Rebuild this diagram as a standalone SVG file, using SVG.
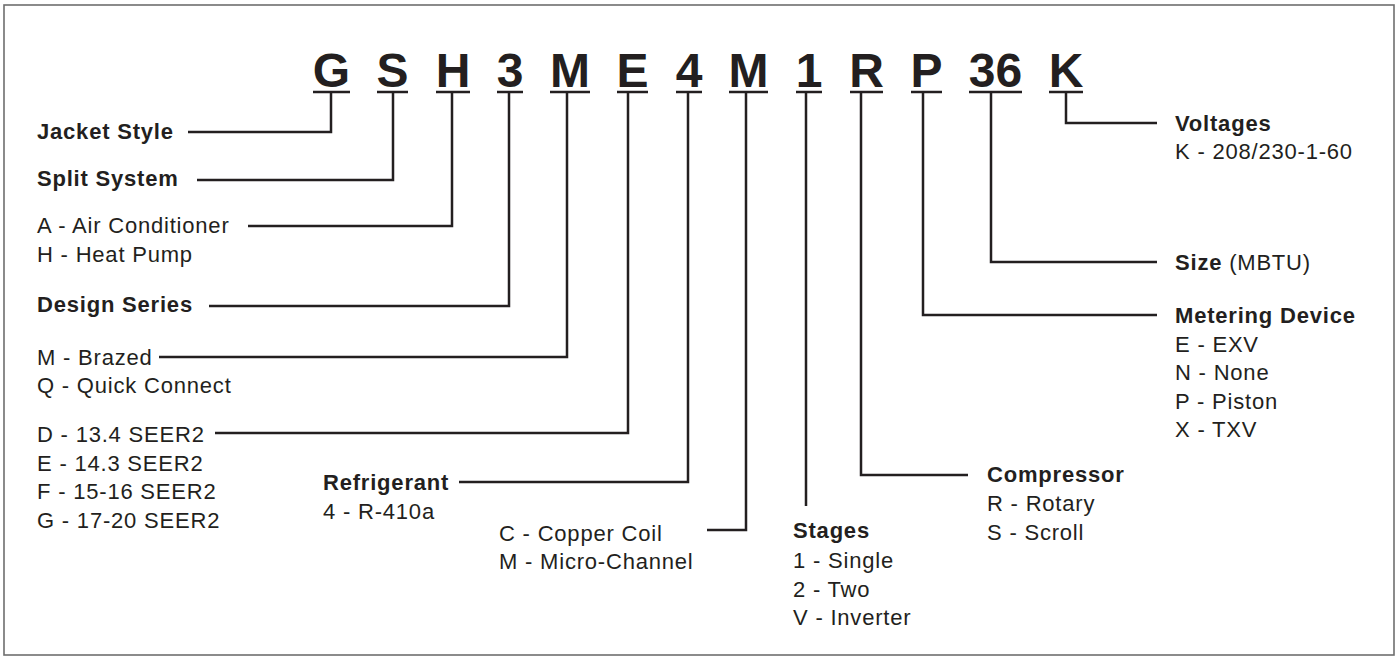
<svg xmlns="http://www.w3.org/2000/svg" width="1398" height="656" viewBox="0 0 1398 656">
<style>
.code{font-family:"Liberation Sans",Arial,Helvetica,sans-serif;font-weight:bold;font-size:48px;fill:#231f20;text-anchor:middle}
.t{font-family:"Liberation Sans",Arial,Helvetica,sans-serif;font-size:22px;letter-spacing:0.8px;fill:#231f20}
.b{font-weight:bold}
.ul{stroke:#231f20;stroke-width:2.5}
.conn polyline{fill:none;stroke:#231f20;stroke-width:2.5}
</style>
<rect x="4" y="5" width="1390" height="650" fill="#ffffff" stroke="#6e6e6e" stroke-width="1.6"/>
<g id="codes">
  <g id="code-G"><text class="code" x="331.5" y="87">G</text><line class="ul" x1="313" y1="92" x2="350" y2="92"/></g>
  <g id="code-S"><text class="code" x="392.5" y="87">S</text><line class="ul" x1="377" y1="92" x2="408" y2="92"/></g>
  <g id="code-H"><text class="code" x="453" y="87">H</text><line class="ul" x1="436" y1="92" x2="470" y2="92"/></g>
  <g id="code-3"><text class="code" x="510" y="87">3</text><line class="ul" x1="497" y1="92" x2="523" y2="92"/></g>
  <g id="code-M1"><text class="code" x="570" y="87">M</text><line class="ul" x1="550" y1="92" x2="590" y2="92"/></g>
  <g id="code-E"><text class="code" x="632.5" y="87">E</text><line class="ul" x1="617" y1="92" x2="648" y2="92"/></g>
  <g id="code-4"><text class="code" x="689" y="87">4</text><line class="ul" x1="676" y1="92" x2="702" y2="92"/></g>
  <g id="code-M2"><text class="code" x="748.5" y="87">M</text><line class="ul" x1="729" y1="92" x2="768" y2="92"/></g>
  <g id="code-1"><text class="code" x="809" y="87">1</text><line class="ul" x1="796" y1="92" x2="822" y2="92"/></g>
  <g id="code-R"><text class="code" x="866.5" y="87">R</text><line class="ul" x1="850" y1="92" x2="883" y2="92"/></g>
  <g id="code-P"><text class="code" x="926.5" y="87">P</text><line class="ul" x1="911" y1="92" x2="942" y2="92"/></g>
  <g id="code-36"><text class="code" x="995.5" y="87">36</text><line class="ul" x1="969" y1="92" x2="1022" y2="92"/></g>
  <g id="code-K"><text class="code" x="1066" y="87">K</text><line class="ul" x1="1049" y1="92" x2="1083" y2="92"/></g>
</g>
<g id="connectors" class="conn">
  <polyline points="331,92 331,132 188,132"/>
  <polyline points="393,92 393,180 197,180"/>
  <polyline points="452,92 452,226 248,226"/>
  <polyline points="509,92 509,306 209,306"/>
  <polyline points="567,92 567,357 159,357"/>
  <polyline points="628,92 628,433 215,433"/>
  <polyline points="688,92 688,482 459,482"/>
  <polyline points="746,92 746,530 707,530"/>
  <polyline points="806,92 806,506"/>
  <polyline points="861,92 861,475 968,475"/>
  <polyline points="923,92 923,315 1157,315"/>
  <polyline points="991,92 991,262 1157,262"/>
  <polyline points="1066,92 1066,123 1157,123"/>
</g>
<g id="jacket-style"><text class="t b" x="37" y="139">Jacket Style</text></g>
<g id="split-system"><text class="t b" x="37" y="186">Split System</text></g>
<g id="system-type">
  <text class="t" x="37" y="233">A - Air Conditioner</text>
  <text class="t" x="37" y="262">H - Heat Pump</text>
</g>
<g id="design-series"><text class="t b" x="37" y="312">Design Series</text></g>
<g id="connection">
  <text class="t" x="37" y="365">M - Brazed</text>
  <text class="t" x="37" y="393">Q - Quick Connect</text>
</g>
<g id="efficiency">
  <text class="t" x="37" y="442">D - 13.4 SEER2</text>
  <text class="t" x="37" y="471">E - 14.3 SEER2</text>
  <text class="t" x="37" y="499">F - 15-16 SEER2</text>
  <text class="t" x="37" y="528">G - 17-20 SEER2</text>
</g>
<g id="refrigerant">
  <text class="t b" x="323" y="490">Refrigerant</text>
  <text class="t" x="323" y="519">4 - R-410a</text>
</g>
<g id="coil">
  <text class="t" x="499" y="541">C - Copper Coil</text>
  <text class="t" x="499" y="569">M - Micro-Channel</text>
</g>
<g id="stages">
  <text class="t b" x="793" y="538">Stages</text>
  <text class="t" x="793" y="568">1 - Single</text>
  <text class="t" x="793" y="597">2 - Two</text>
  <text class="t" x="793" y="625">V - Inverter</text>
</g>
<g id="compressor">
  <text class="t b" x="987" y="482">Compressor</text>
  <text class="t" x="987" y="511">R - Rotary</text>
  <text class="t" x="987" y="540">S - Scroll</text>
</g>
<g id="voltages">
  <text class="t b" x="1175" y="131">Voltages</text>
  <text class="t" x="1175" y="159">K - 208/230-1-60</text>
</g>
<g id="size"><text class="t" x="1175" y="270"><tspan class="b">Size</tspan> (MBTU)</text></g>
<g id="metering-device">
  <text class="t b" x="1175" y="323">Metering Device</text>
  <text class="t" x="1175" y="352">E - EXV</text>
  <text class="t" x="1175" y="380">N - None</text>
  <text class="t" x="1175" y="409">P - Piston</text>
  <text class="t" x="1175" y="437">X - TXV</text>
</g>
</svg>
